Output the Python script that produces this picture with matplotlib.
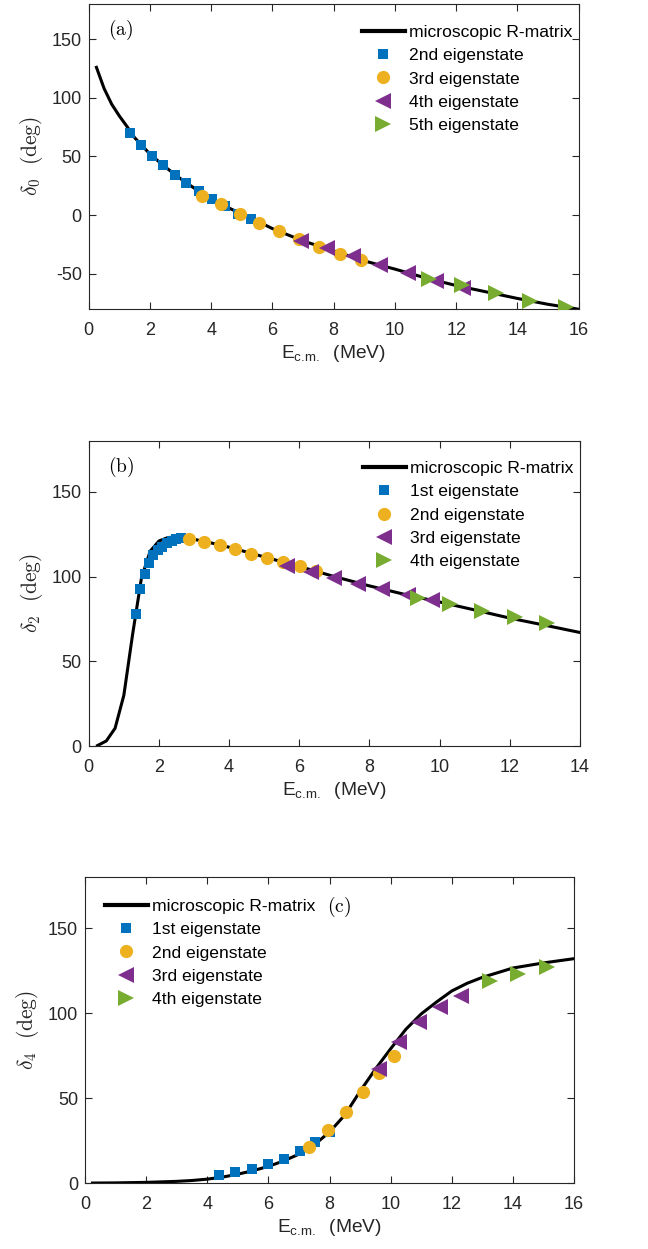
import matplotlib
matplotlib.use("Agg")
import matplotlib.pyplot as plt

plt.rcParams['font.family'] = ['Liberation Sans', 'DejaVu Sans']
plt.rcParams['axes.unicode_minus'] = False
plt.rcParams['mathtext.fontset'] = 'custom'
plt.rcParams['mathtext.rm'] = 'Liberation Sans'
plt.rcParams['mathtext.it'] = 'Liberation Sans:italic'
plt.rcParams['mathtext.bf'] = 'Liberation Sans:bold'

C_BLUE = '#0072BD'
C_ORANGE = '#EDB120'
C_PURPLE = '#7E2F8E'
C_GREEN = '#77AC30'
AX_COL = '#262626'

# ---------------- Panel (a): delta_0 ----------------
a_curve_E = [0.25, 0.5, 0.75, 1.0, 1.25, 1.5, 2.0, 2.5, 3.0, 3.5, 4.0, 4.5, 5.0, 5.5,
             6.0, 7.0, 8.0, 9.0, 10.0, 11.0, 12.0, 13.0, 14.0, 15.0, 16.0]
a_curve_d = [126.0, 108.0, 94.5, 84.5, 75.5, 66.0, 52.0, 41.0, 31.0, 22.0, 14.0, 7.0, 1.0, -5.0,
             -11.5, -22.0, -30.5, -39.0, -46.0, -53.5, -60.0, -65.5, -71.0, -76.0, -80.2]
a_s2_E = [1.36, 1.70, 2.05, 2.42, 2.81, 3.19, 3.59, 4.01, 4.46, 4.88, 5.29]
a_s2_d = [70.0, 59.8, 50.8, 42.5, 34.6, 27.2, 20.4, 13.9, 7.7, 1.4, -3.1]
a_s3_E = [3.71, 4.32, 4.93, 5.56, 6.20, 6.86, 7.52, 8.19, 8.88]
a_s3_d = [16.2, 9.4, 1.4, -6.5, -13.3, -20.1, -27.0, -32.9, -38.5]
a_s4_E = [6.92, 7.78, 8.63, 9.52, 10.43, 11.33, 12.22]
a_s4_d = [-22.4, -28.1, -34.9, -42.5, -49.6, -56.1, -62.1]
a_s5_E = [11.11, 12.20, 13.31, 14.42, 15.60]
a_s5_d = [-54.2, -59.5, -66.6, -72.9, -78.5]
a_labels = ['microscopic R-matrix', '2nd eigenstate', '3rd eigenstate',
            '4th eigenstate', '5th eigenstate']

# ---------------- Panel (b): delta_2 ----------------
b_curve_E = [0.25, 0.5, 0.75, 1.0, 1.25, 1.5, 1.75, 2.0, 2.25, 2.5, 2.75, 3.0, 3.5, 4.0,
             4.5, 5.0, 5.5, 6.0, 7.0, 8.0, 9.0, 10.0, 11.0, 12.0, 13.0, 14.0]
b_curve_d = [0.3, 3.0, 10.5, 30.0, 66.0, 99.0, 115.0, 121.0, 123.0, 123.5, 123.2, 122.0,
             119.8, 117.3, 114.5, 111.6, 108.8, 106.0, 100.0, 94.5, 89.5, 85.0, 80.3,
             75.5, 71.3, 67.0]
b_s1_E = [1.34, 1.47, 1.59, 1.72, 1.82, 1.96, 2.10, 2.23, 2.36, 2.49, 2.63]
b_s1_d = [77.8, 92.5, 101.6, 107.9, 112.8, 115.4, 117.7, 119.7, 121.1, 122.0, 123.0]
b_s2_E = [2.87, 3.29, 3.74, 4.16, 4.62, 5.08, 5.54, 6.02, 6.47]
b_s2_d = [122.2, 120.7, 118.5, 116.3, 113.6, 111.0, 108.7, 106.1, 103.4]
b_s3_E = [5.64, 6.32, 6.99, 7.68, 8.37, 9.10, 9.77]
b_s3_d = [106.3, 102.8, 99.3, 95.9, 92.6, 89.2, 85.9]
b_s4_E = [9.39, 10.29, 11.21, 12.15, 13.07]
b_s4_d = [87.4, 83.7, 79.4, 76.1, 72.7]
b_labels = ['microscopic R-matrix', '1st eigenstate', '2nd eigenstate',
            '3rd eigenstate', '4th eigenstate']

# ---------------- Panel (c): delta_4 ----------------
c_curve_E = [0.25, 1.0, 2.0, 3.0, 3.5, 4.0, 4.5, 5.0, 5.5, 6.0, 6.5, 7.0, 7.5, 8.0, 8.5,
             9.0, 9.5, 10.0, 10.5, 11.0, 11.5, 12.0, 12.5, 13.0, 14.0, 15.0, 16.0]
c_curve_d = [0.0, 0.1, 0.4, 1.0, 1.5, 2.3, 3.5, 5.2, 7.3, 9.8, 13.0, 17.0, 22.5, 30.0,
             40.0, 54.0, 67.0, 79.0, 90.5, 99.5, 106.5, 113.0, 117.5, 121.0, 126.5,
             129.5, 132.0]
c_s1_E = [4.39, 4.92, 5.45, 6.0, 6.52, 7.03, 7.53, 8.02]
c_s1_d = [4.5, 6.4, 8.5, 11.1, 14.4, 18.6, 23.9, 30.0]
c_s2_E = [7.33, 7.95, 8.55, 9.10, 9.61, 10.10]
c_s2_d = [21.5, 31.4, 41.8, 53.6, 64.6, 74.8]
c_s3_E = [9.62, 10.27, 10.93, 11.60, 12.29]
c_s3_d = [67.3, 83.1, 94.5, 103.3, 110.2]
c_s4_E = [13.24, 14.17, 15.12]
c_s4_d = [118.6, 123.1, 126.9]
c_labels = ['microscopic R-matrix', '1st eigenstate', '2nd eigenstate',
            '3rd eigenstate', '4th eigenstate']

FS = 13

fig = plt.figure(figsize=(6.48, 12.49), dpi=100)


def make_panel(rect, curve, sets, labels, xlim, ylim, yticks, xticks, sub, tag, tagpos,
               legpos):
    ax = fig.add_axes(rect)
    ax.plot(curve[0], curve[1], color='black', lw=2.2, zorder=2)
    styles = [('s', C_BLUE, 7.5), ('o', C_ORANGE, 9.5), ('<', C_PURPLE, 11),
              ('>', C_GREEN, 11)]
    handles = []
    (hl,) = ax.plot([], [], color='black', lw=3)
    handles.append(hl)
    for (E, d), (m, c, ms) in zip(sets, styles):
        ax.plot(E, d, ls='none', marker=m, color=c, ms=ms, mew=0, zorder=3)
        (h,) = ax.plot([], [], ls='none', marker=m, color=c,
                       ms=(6.5 if m == 's' else ms), mew=0)
        handles.append(h)
    ax.set_xlim(*xlim)
    ax.set_ylim(*ylim)
    ax.set_xticks(xticks)
    ax.set_yticks(yticks)
    ax.tick_params(direction='in', top=True, right=True, length=5, width=0.8,
                   colors=AX_COL, labelsize=FS, labelcolor=AX_COL)
    ax.tick_params(axis='x', pad=9)
    ax.tick_params(axis='y', pad=5)
    for s in ax.spines.values():
        s.set_color(AX_COL)
        s.set_linewidth(0.8)
    ax.set_xlabel(r'E$_{\mathrm{c.\!m.}}$  (MeV)', fontsize=13.8, color=AX_COL,
                  labelpad=3)
    ax.set_ylabel(r'$\delta_{%s}\ \ \mathrm{(deg)}$' % sub, fontsize=15.5, color=AX_COL,
                  labelpad=5, math_fontfamily='cm')
    ax.text(tagpos[0], tagpos[1], r'$\mathrm{(%s)}$' % tag, transform=ax.transAxes,
            fontsize=14, math_fontfamily='cm', ha='left', va='center', color='black')
    ax.legend(handles, labels, loc='upper left', bbox_to_anchor=legpos, frameon=False,
              fontsize=12.6, handlelength=2.45, handletextpad=0.25, labelspacing=0.46,
              borderaxespad=0, borderpad=0, numpoints=1)
    return ax


make_panel([0.137, 0.7526, 0.756, 0.2442], (a_curve_E, a_curve_d),
           [(a_s2_E, a_s2_d), (a_s3_E, a_s3_d), (a_s4_E, a_s4_d), (a_s5_E, a_s5_d)],
           a_labels, (0, 16), (-80, 180), [-50, 0, 50, 100, 150], list(range(0, 17, 2)),
           '0', 'a', (0.04, 0.915), (0.557, 0.932))

make_panel([0.137, 0.4027, 0.758, 0.2442], (b_curve_E, b_curve_d),
           [(b_s1_E, b_s1_d), (b_s2_E, b_s2_d), (b_s3_E, b_s3_d), (b_s4_E, b_s4_d)],
           b_labels, (0, 14), (0, 180), [0, 50, 100, 150], list(range(0, 15, 2)),
           '2', 'b', (0.04, 0.915), (0.558, 0.935))

make_panel([0.131, 0.0528, 0.755, 0.245], (c_curve_E, c_curve_d),
           [(c_s1_E, c_s1_d), (c_s2_E, c_s2_d), (c_s3_E, c_s3_d), (c_s4_E, c_s4_d)],
           c_labels, (0, 16), (0, 180), [0, 50, 100, 150], list(range(0, 17, 2)),
           '4', 'c', (0.495, 0.902), (0.041, 0.929))

fig.savefig('out.png', dpi=100)
